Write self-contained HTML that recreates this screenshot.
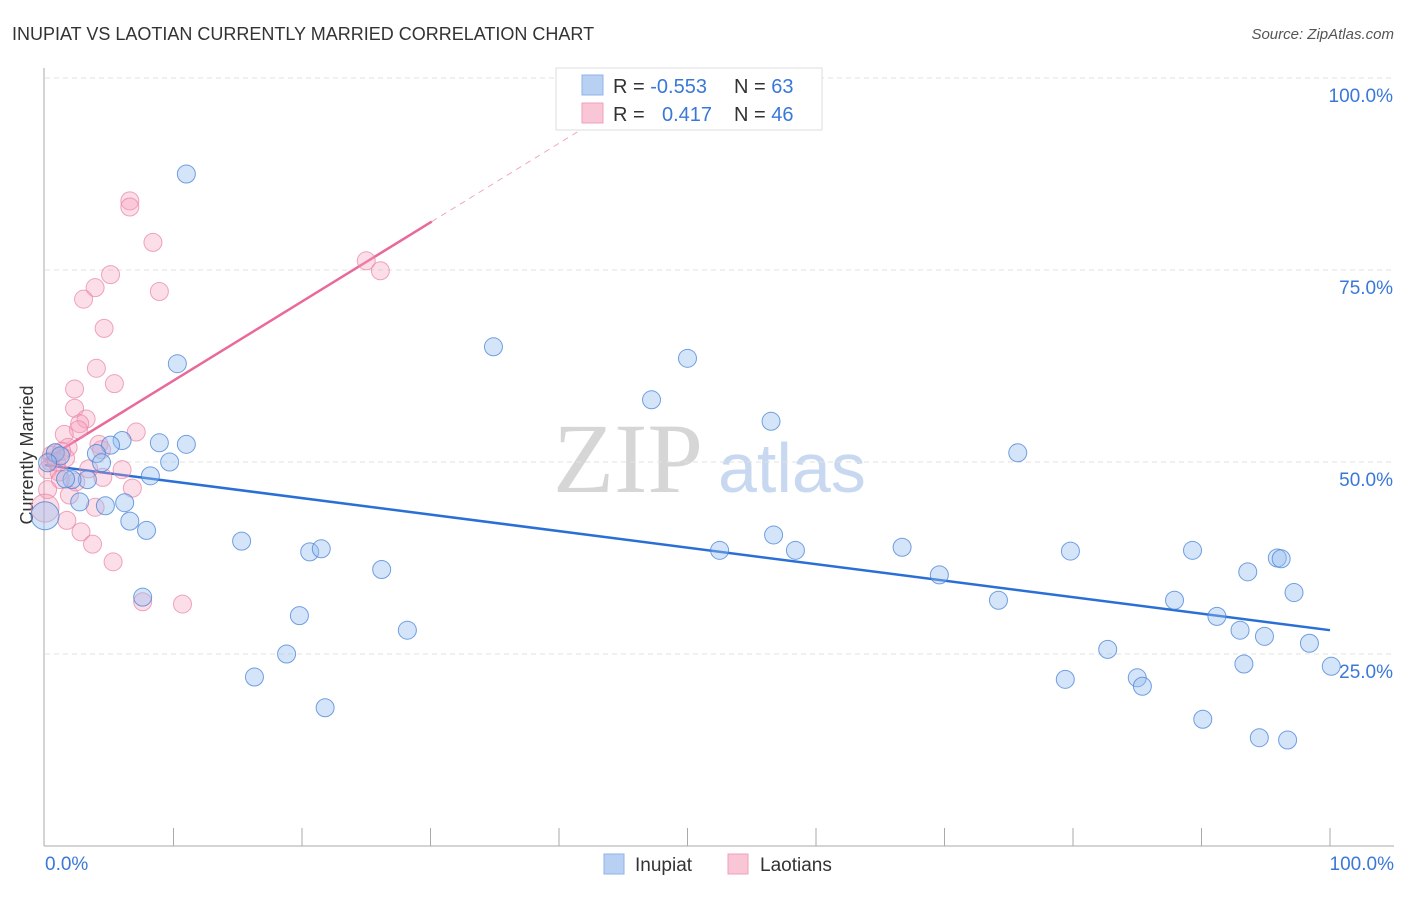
<!DOCTYPE html>
<html><head><meta charset="utf-8"><style>
body{margin:0;background:#fff;font-family:"Liberation Sans",sans-serif}
svg text{font-family:"Liberation Sans",sans-serif}
</style></head><body>
<svg width="1406" height="892" id="chart">
<text x="12" y="40" font-size="18" fill="#333">INUPIAT VS LAOTIAN CURRENTLY MARRIED CORRELATION CHART</text>
<text x="1394" y="39" font-size="15" fill="#555" font-style="italic" text-anchor="end">Source: ZipAtlas.com</text>
<text x="0" y="0" font-size="18" fill="#333" text-anchor="middle" transform="translate(33,455) rotate(-90)">Currently Married</text>
<text x="553" y="492" font-size="100" fill="#d6d6d6" style="font-family:'Liberation Serif',serif">ZIP</text>
<text x="718" y="492" font-size="70" fill="#c8d8f0">atlas</text>
<g id="grid"></g><g id="axes"></g><g id="lines"></g><g id="pts"></g>
<g>
<rect x="556" y="68" width="266" height="62" fill="#fff" stroke="#ddd"/>
<rect x="582" y="75" width="21" height="20" fill="#b8d1f3" stroke="#8fb3e8"/>
<rect x="582" y="103" width="21" height="20" fill="#f9c6d5" stroke="#f0a0b8"/>
<text x="613" y="93" font-size="20" fill="#333">R = <tspan fill="#3a78d8">-0.553</tspan></text>
<text x="734" y="93" font-size="20" fill="#333">N = <tspan fill="#3a78d8">63</tspan></text>
<text x="613" y="121" font-size="20" fill="#333">R = </text>
<text x="662" y="121" font-size="20" fill="#3a78d8">0.417</text>
<text x="734" y="121" font-size="20" fill="#333">N = <tspan fill="#3a78d8">46</tspan></text>
</g>
<g>
<rect x="604" y="854" width="20" height="20" fill="#b8d1f3" stroke="#8fb3e8"/>
<text x="635" y="871" font-size="19" fill="#333">Inupiat</text>
<rect x="728" y="854" width="20" height="20" fill="#f9c6d5" stroke="#f0a0b8"/>
<text x="760" y="871" font-size="19" fill="#333">Laotians</text>
</g>
</svg>
<script>
const yTicks=[25,50,75,100];
const yTickLabels=["25.0%","50.0%","75.0%","100.0%"];
const inupiatX=[11.0,10.3,34.9,50.0,47.2,56.5,75.7,8.9,11.0,9.7,6.0,5.1,4.0,4.4,8.2,3.3,2.1,2.7,4.7,6.2,6.6,7.9,15.3,20.6,21.5,26.2,19.8,18.8,28.2,16.3,21.8,7.6,52.5,56.7,58.4,66.7,69.6,74.2,79.8,79.4,82.7,85.0,85.4,89.3,87.9,91.2,90.1,93.0,93.3,93.6,95.9,96.2,94.9,97.2,94.5,96.7,98.4,100.1,0,0.8,1.2,0.2,1.6];
const inupiatY=[87.5,62.8,65.0,63.5,58.1,55.3,51.2,52.5,52.3,50.0,52.8,52.2,51.1,49.9,48.2,47.7,47.7,44.8,44.3,44.7,42.3,41.1,39.7,38.3,38.7,36.0,30.0,25.0,28.1,22.0,18.0,32.4,38.5,40.5,38.5,38.9,35.3,32.0,38.4,21.7,25.6,21.9,20.8,38.5,32.0,29.9,16.5,28.1,23.7,35.7,37.5,37.4,27.3,33.0,14.1,13.8,26.4,23.4,43.0,51.2,50.8,49.9,47.8];
const laoX=[6.6,6.6,8.4,5.1,3.9,3.0,8.9,4.6,4.0,5.4,2.3,2.3,3.2,2.7,2.6,1.5,7.1,4.2,1.8,0.8,0.4,0.2,1.1,1.2,4.5,6.0,6.8,0.2,1.9,3.9,1.7,2.8,3.7,5.3,7.6,10.7,25.0,26.1,0,0.5,0.9,1.6,2.4,3.4,4.4,1.3];
const laoY=[84.0,83.2,78.6,74.4,72.7,71.2,72.2,67.4,62.2,60.2,59.5,57.0,55.6,55.0,54.2,53.6,53.9,52.3,51.9,51.2,50.1,49.0,48.7,47.7,48.0,49.0,46.6,46.4,45.7,44.1,42.4,40.9,39.3,37.0,31.8,31.5,76.2,74.9,44.0,50.9,50.0,50.5,47.4,49.1,51.6,51.4];
const blueLine=[49.6,28.1];
const pinkStart=50.3, pinkSlope=1.03, pinkSolidEnd=30.1, pinkDashEnd=42.5;
const X=v=>45+v*12.85, Y=v=>846-v*7.68;
const NS="http://www.w3.org/2000/svg";
function mk(t,a,p){const e=document.createElementNS(NS,t);for(const k in a)e.setAttribute(k,a[k]);document.getElementById(p).appendChild(e);return e;}
yTicks.forEach((t,i)=>{
 const g=mk('line',{x1:45,x2:1394,y1:Y(t),y2:Y(t),stroke:'#e2e2e2','stroke-dasharray':'5,4'},'grid');
 
 
 const l=mk('text',{x:1393,y:Y(t)+24,'font-size':19,fill:'#3a78d8','text-anchor':'end'},'axes');
 l.textContent=yTickLabels[i];
 
 
});
let a=mk('line',{x1:44,x2:44,y1:68,y2:846,stroke:'#aaa'},'axes');


a=mk('line',{x1:44,x2:1394,y1:846,y2:846,stroke:'#aaa'},'axes');


for(let i=1;i<=10;i++){const t=mk('line',{x1:X(i*10),x2:X(i*10),y1:828,y2:846,stroke:'#aaa'},'axes');
 
 }
let t=mk('text',{x:45,y:870,'font-size':19,fill:'#3a78d8'},'axes');t.textContent='0.0%';


t=mk('text',{x:1394,y:870,'font-size':19,fill:'#3a78d8','text-anchor':'end'},'axes');t.textContent='100.0%';


laoX.forEach((x,i)=>{const c=mk('circle',{cx:X(x),cy:Y(laoY[i]),r:(x===0?14:9),fill:'rgba(246,160,188,0.35)',stroke:'rgba(232,130,162,0.7)','stroke-width':1},'pts');
 
 });
inupiatX.forEach((x,i)=>{const c=mk('circle',{cx:X(x),cy:Y(inupiatY[i]),r:(x===0?14:9),fill:'rgba(150,190,240,0.4)',stroke:'rgba(70,130,215,0.75)','stroke-width':1},'pts');
 
 });
let ln=mk('line',{x1:X(0),y1:Y(blueLine[0]),x2:X(100),y2:Y(blueLine[1]),stroke:'#2a6fd6','stroke-width':2.5},'lines');


ln=mk('line',{x1:X(0),y1:Y(pinkStart),x2:X(pinkSolidEnd),y2:Y(pinkStart+pinkSlope*pinkSolidEnd),stroke:'#e8699a','stroke-width':2.5},'lines');


ln=mk('line',{x1:X(pinkSolidEnd),y1:Y(pinkStart+pinkSlope*pinkSolidEnd),x2:X(pinkDashEnd),y2:Y(pinkStart+pinkSlope*pinkDashEnd),stroke:'#f0a8c0','stroke-width':1,'stroke-dasharray':'6,5'},'lines');


</script>
</body></html>
